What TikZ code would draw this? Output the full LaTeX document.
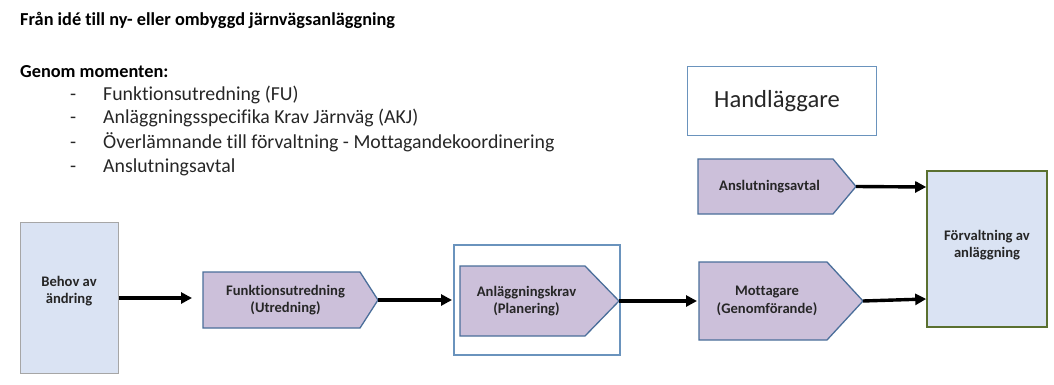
\documentclass[tikz,border=0pt]{standalone}
\usepackage{fontspec}
\setmainfont{Carlito}[Ligatures={NoCommon}]
\usetikzlibrary{arrows.meta}
\definecolor{pentfill}{HTML}{CCC0DA}
\definecolor{pentdraw}{HTML}{4A6E9A}
\definecolor{boxfill}{HTML}{DAE3F3}
\definecolor{behovdraw}{HTML}{A6A6A6}
\definecolor{forvdraw}{HTML}{5A7030}
\definecolor{framedraw}{HTML}{6A93BD}
\definecolor{txt}{HTML}{262626}
\tikzset{
  pentshape/.style={fill=pentfill,draw=pentdraw,line width=1.3pt,line join=miter},
  penttext/.style={align=center,font=\fontsize{14.6}{17.5}\selectfont\bfseries,text=txt,inner sep=0pt},
  flow/.style={-{Triangle[length=11pt,width=11pt]},line width=3.4pt,draw=black},
  boxtext/.style={align=center,font=\fontsize{14.6}{17.5}\selectfont\bfseries,text=txt,inner sep=0pt},
}
% \pent{name}{xleft}{xflat}{xtip}{ytop}{ybot}{text}
\newcommand{\pent}[7]{%
  \path[pentshape] (#2,#5) -- (#3,#5) -- (#4,{(#5+#6)/2}) -- (#3,#6) -- (#2,#6) -- cycle;
  \node[penttext] (#1) at ({(#2+#3)/2+4},{(#5+#6)/2}) {#7};
  \coordinate (#1-tip) at (#4,{(#5+#6)/2});
}
\begin{document}
\begin{tikzpicture}[x=1pt,y=-1pt]
\useasboundingbox (0,0) rectangle (1054,385);
% header text
\node[anchor=base west,inner sep=0pt,font=\fontsize{18.3}{22}\selectfont\bfseries] (title) at (20,26) {Från idé till ny- eller ombyggd järnvägsanläggning};
\node[anchor=base west,inner sep=0pt,font=\fontsize{18.3}{22}\selectfont\bfseries] (genom) at (20,78) {Genom momenten:};
\foreach \y/\t [count=\i] in {101/{Funktionsutredning (FU)},124/{Anläggningsspecifika Krav Järnväg (AKJ)},148/{Överlämnande till förvaltning - Mottagandekoordinering},172/{Anslutningsavtal}}{
  \node[anchor=base west,inner sep=0pt,font=\fontsize{19.8}{23}\selectfont,text=txt] (dash\i) at (70,\y) {-};
  \node[anchor=base west,inner sep=0pt,font=\fontsize{19.8}{23}\selectfont,text=txt] (item\i) at (103,\y) {\t};
}
% Handläggare
\node[draw=framedraw,line width=1pt,minimum width=189pt,minimum height=68pt,inner sep=0pt] (handl) at (781.5,101) {};
\node[anchor=west,inner sep=0pt,font=\fontsize{24.6}{29}\selectfont,text=txt] (handltext) at (714,101) {Handläggare};
% Behov
\node[fill=boxfill,draw=behovdraw,line width=1pt,minimum width=98pt,minimum height=151pt,inner sep=0pt] (behov) at (69,297.5) {};
\node[boxtext] (behovtext) at (69,291) {Behov av\\ändring};
% frame around Anläggningskrav
\node[draw=framedraw,line width=1.2pt,minimum width=166pt,minimum height=110pt,inner sep=0pt] (frame) at (537,300) {};
% pentagons
\pent{fu}{203}{360}{378}{272}{328}{Funktionsutredning\\(Utredning)}
\pent{ak}{460}{585}{619}{266}{336}{Anläggningskrav\\(Planering)}
\pent{mo}{699}{827}{863}{262}{340}{Mottagare\\(Genomförande)}
\pent{an}{698}{833}{856}{159}{214}{Anslutningsavtal}
% Förvaltning
\node[fill=boxfill,draw=forvdraw,line width=1.6pt,minimum width=120pt,minimum height=156pt,inner sep=0pt] (forv) at (987,249) {};
\node[boxtext] (forvtext) at (987,245) {Förvaltning av\\anläggning};
% arrows
\draw[flow] (behov.east |- 0,298) -- (192,298);
\draw[flow] (fu-tip) -- (452,300);
\draw[flow] (ak-tip) -- (697,301);
\draw[flow] (mo-tip) -- (forv.west |- 0,299);
\draw[flow] (an-tip) -- (forv.west |- 0,187);
\end{tikzpicture}
\end{document}
